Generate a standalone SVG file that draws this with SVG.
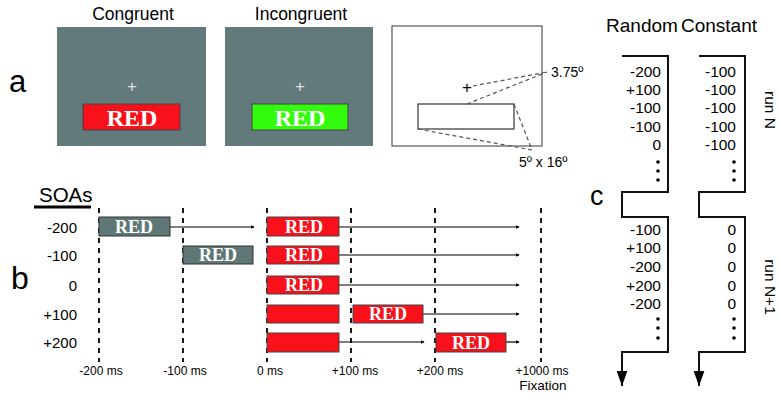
<svg xmlns="http://www.w3.org/2000/svg" width="779" height="399" viewBox="0 0 779 399">
<defs>
<style>
.s{font-family:"Liberation Sans",Arial,sans-serif;fill:#000}
.red{font-family:"Liberation Serif","Times New Roman",serif;font-weight:bold;fill:#fff;text-anchor:middle}
.scr{fill:#637a7c}
.rbox{fill:#f8101a;stroke:#444;stroke-width:1}
.gbox{fill:#607778;stroke:#333;stroke-width:1}
.dash{stroke:#000;stroke-width:1.8;stroke-dasharray:5,5;fill:none}
.tl{stroke:#000;stroke-width:1.2;fill:none;marker-end:url(#sa)}
.br{stroke:#111;stroke-width:2;fill:none;marker-end:url(#ba)}
.gd{stroke:#555;stroke-width:1.2;stroke-dasharray:4,3;fill:none}
.num{font-family:"Liberation Sans",Arial,sans-serif;font-size:15.5px;text-anchor:end}
.tick{font-family:"Liberation Sans",Arial,sans-serif;font-size:12px;text-anchor:middle}
.row{font-family:"Liberation Sans",Arial,sans-serif;font-size:15px;text-anchor:end}
.fix{font-family:"Liberation Sans",Arial,sans-serif;font-size:17px;text-anchor:middle}
</style>
<marker id="sa" viewBox="0 0 6 6" refX="5" refY="3" markerWidth="4" markerHeight="4" orient="auto" markerUnits="userSpaceOnUse"><path d="M0,0L6,3L0,6z" fill="#000"/></marker>
<marker id="ba" viewBox="0 0 10 14" refX="5" refY="14" markerWidth="11" markerHeight="15" orient="0" markerUnits="userSpaceOnUse"><path d="M0,0L10,0L5,14z" fill="#000"/></marker>
</defs>

<!-- panel a -->
<g id="label-a"><text class="s" x="9" y="92" font-size="31">a</text></g>
<g id="congruent">
<text class="s" x="133" y="20" font-size="17.5" text-anchor="middle">Congruent</text>
<rect class="scr" x="57" y="27" width="149" height="119"/>
<text class="fix" x="132" y="92" fill="#e0e0e0">+</text>
<rect class="rbox" x="83" y="104" width="97" height="26"/>
<text class="red" x="132" y="126" font-size="24">RED</text>
</g>
<g id="incongruent">
<text class="s" x="301" y="20" font-size="17.5" text-anchor="middle">Incongruent</text>
<rect class="scr" x="225" y="27" width="148" height="119"/>
<text class="fix" x="300" y="92" fill="#e0e0e0">+</text>
<rect x="252" y="104" width="96" height="26" fill="#33fb0c" stroke="#444" stroke-width="1"/>
<text class="red" x="300" y="126" font-size="24">RED</text>
</g>
<g id="geometry">
<rect x="392" y="26" width="150" height="120" fill="#fff" stroke="#555" stroke-width="1.2"/>
<text class="fix" x="467" y="93" fill="#000">+</text>
<rect x="418" y="104" width="96" height="25" fill="#fff" stroke="#333" stroke-width="1.2"/>
<path class="gd" d="M473,86L547,72M467,104L547,72M418,129L532,150M514,104L532,150"/>
<text class="s" x="551" y="77" font-size="14">3.75º</text>
<text class="s" x="519" y="167" font-size="14">5º x 16º</text>
</g>

<!-- panel b -->
<g id="label-b"><text class="s" x="11" y="289" font-size="32">b</text></g>
<g id="soas">
<text class="s" x="39" y="202" font-size="20.5">SOAs</text>
<line x1="34" y1="207" x2="91" y2="207" stroke="#000" stroke-width="3"/>
<text class="row" x="77" y="233">-200</text>
<text class="row" x="77" y="261">-100</text>
<text class="row" x="77" y="291">0</text>
<text class="row" x="77" y="320">+100</text>
<text class="row" x="77" y="348">+200</text>
</g>
<g id="axis">
<path class="dash" d="M99,208V362M183,208V362M267,208V362M351,208V362M435,208V362M541,208V362"/>
<text class="tick" x="101" y="375">-200 ms</text>
<text class="tick" x="185" y="375">-100 ms</text>
<text class="tick" x="270" y="375">0 ms</text>
<text class="tick" x="355" y="375">+100 ms</text>
<text class="tick" x="440" y="375">+200 ms</text>
<text class="tick" x="542" y="375">+1000 ms</text>
<text class="s" x="543" y="390" font-size="13.5" text-anchor="middle">Fixation</text>
</g>
<g id="connectors">
<path class="tl" d="M170,227H254"/>
<path class="tl" d="M339,227H519"/>
<path class="tl" d="M339,255H519"/>
<path class="tl" d="M339,285H519"/>
<path class="tl" d="M423,314H519"/>
<path class="tl" d="M339,342H424"/>
<path class="tl" d="M506,342H519"/>
</g>
<g id="row-m200">
<rect class="gbox" x="99" y="217" width="71" height="19"/>
<text class="red" x="134" y="233" font-size="18">RED</text>
<rect class="rbox" x="267" y="217" width="72" height="19"/>
<text class="red" x="304" y="233" font-size="18">RED</text>
</g>
<g id="row-m100">
<rect class="gbox" x="183" y="246" width="70" height="18"/>
<text class="red" x="218" y="261" font-size="18">RED</text>
<rect class="rbox" x="267" y="246" width="72" height="18"/>
<text class="red" x="304" y="261" font-size="18">RED</text>
</g>
<g id="row-0">
<rect class="rbox" x="267" y="276" width="72" height="18"/>
<text class="red" x="304" y="291" font-size="18">RED</text>
</g>
<g id="row-p100">
<rect class="rbox" x="267" y="305" width="72" height="18"/>
<rect class="rbox" x="353" y="305" width="70" height="18"/>
<text class="red" x="388" y="320" font-size="18">RED</text>
</g>
<g id="row-p200">
<rect class="rbox" x="267" y="333" width="72" height="19"/>
<rect class="rbox" x="436" y="333" width="70" height="19"/>
<text class="red" x="471" y="349" font-size="18">RED</text>
</g>

<!-- panel c -->
<g id="label-c"><text class="s" x="590" y="205" font-size="27">c</text></g>
<g id="random">
<text class="s" x="642" y="32" font-size="19" text-anchor="middle">Random</text>
<path class="br" d="M622,56H668V192H622V217H668V352H622V386"/>
<text class="num" x="661" y="77">-200</text>
<text class="num" x="661" y="95">+100</text>
<text class="num" x="661" y="113">-100</text>
<text class="num" x="661" y="132">-100</text>
<text class="num" x="661" y="150">0</text>
<circle cx="658" cy="162" r="1.8"/><circle cx="658" cy="171" r="1.8"/><circle cx="658" cy="180" r="1.8"/>
<text class="num" x="661" y="235">-100</text>
<text class="num" x="661" y="253">+100</text>
<text class="num" x="661" y="272">-200</text>
<text class="num" x="661" y="291">+200</text>
<text class="num" x="661" y="309">-200</text>
<circle cx="658" cy="319" r="1.8"/><circle cx="658" cy="328" r="1.8"/><circle cx="658" cy="338" r="1.8"/>
</g>
<g id="constant">
<text class="s" x="719" y="32" font-size="19" text-anchor="middle">Constant</text>
<path class="br" d="M699,56H745V192H699V217H745V352H699V386"/>
<text class="num" x="736" y="77">-100</text>
<text class="num" x="736" y="95">-100</text>
<text class="num" x="736" y="113">-100</text>
<text class="num" x="736" y="132">-100</text>
<text class="num" x="736" y="150">-100</text>
<circle cx="734" cy="162" r="1.8"/><circle cx="734" cy="171" r="1.8"/><circle cx="734" cy="180" r="1.8"/>
<text class="num" x="736" y="235">0</text>
<text class="num" x="736" y="253">0</text>
<text class="num" x="736" y="272">0</text>
<text class="num" x="736" y="291">0</text>
<text class="num" x="736" y="309">0</text>
<circle cx="734" cy="319" r="1.8"/><circle cx="734" cy="328" r="1.8"/><circle cx="734" cy="338" r="1.8"/>
</g>
<g id="runs">
<text class="s" x="765" y="110" font-size="15.5" text-anchor="middle" transform="rotate(90 765 110)">run N</text>
<text class="s" x="765" y="287" font-size="15.5" text-anchor="middle" transform="rotate(90 765 287)">run N+1</text>
</g>
</svg>
